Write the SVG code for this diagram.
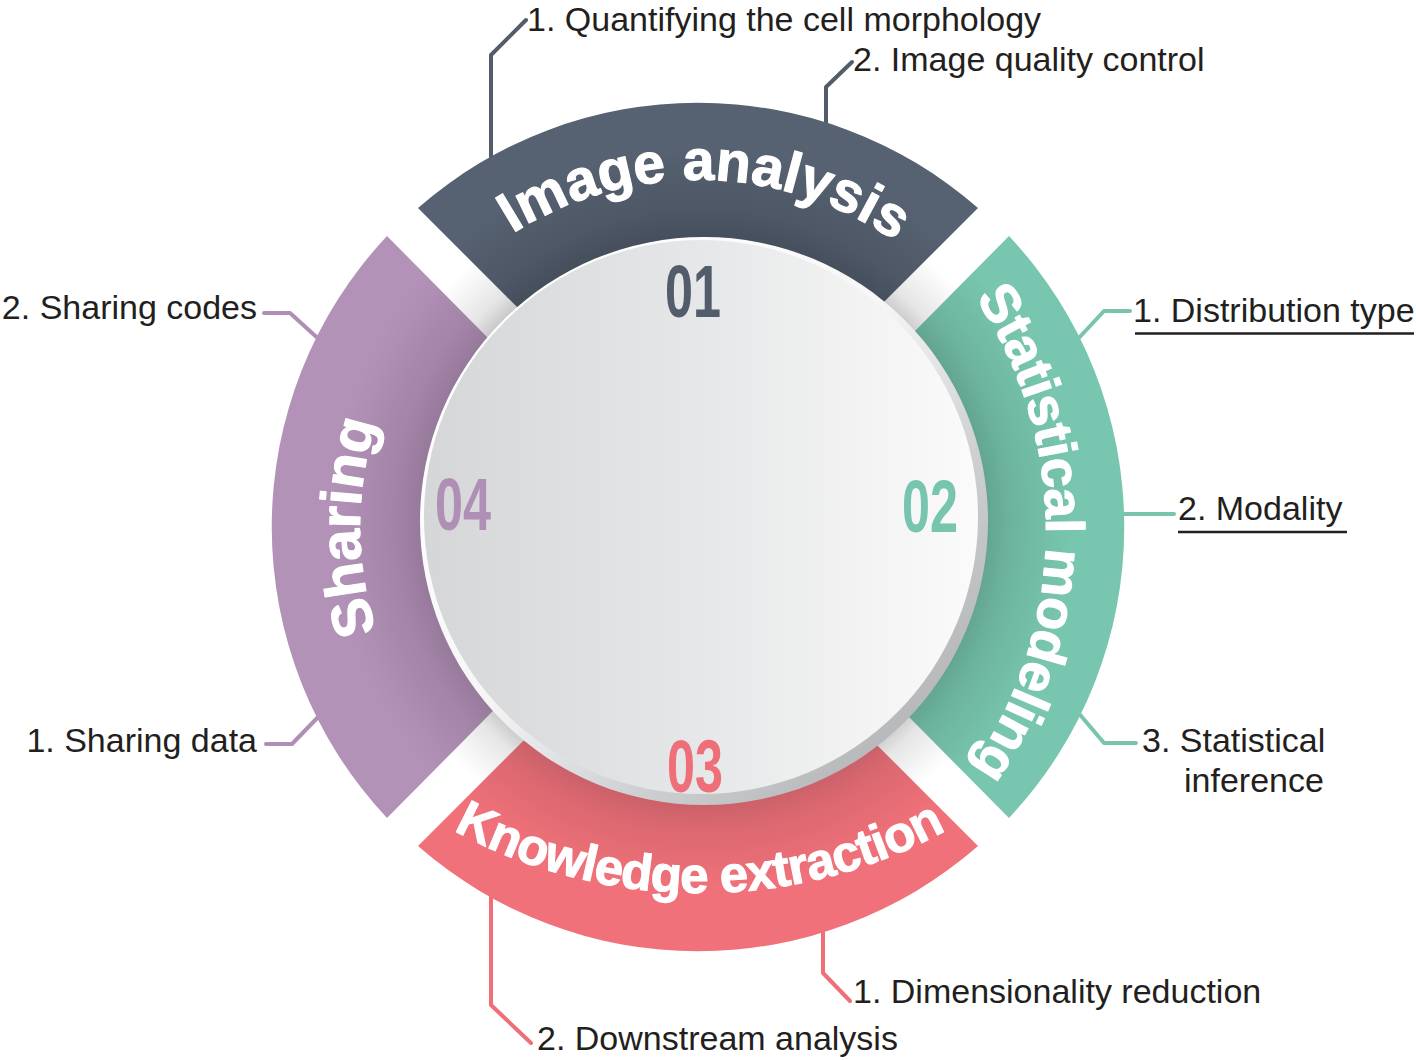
<svg xmlns="http://www.w3.org/2000/svg" width="1416" height="1060" viewBox="0 0 1416 1060">
<defs>
<style>
.lbl{font-family:"Liberation Sans",Arial,Helvetica,sans-serif;font-size:34px;fill:#231f20}
.ttl{font-family:"Liberation Sans",Arial,Helvetica,sans-serif;font-weight:bold;fill:#ffffff;stroke:#ffffff;stroke-width:1.1px;stroke-linejoin:round;text-anchor:middle}
.num{font-family:"Liberation Sans",Arial,Helvetica,sans-serif;font-weight:bold;font-size:74px;text-anchor:middle}
.lead{fill:none;stroke-width:4;stroke-linecap:round;stroke-linejoin:round}
.uline{stroke:#231f20;stroke-width:2.5;fill:none}
</style>
<radialGradient id="gTop" gradientUnits="userSpaceOnUse" cx="702" cy="519" r="430">
<stop offset="0.64" stop-color="#444d5a"/><stop offset="0.72" stop-color="#4d5765"/><stop offset="0.86" stop-color="#566171"/>
</radialGradient>
<radialGradient id="gRight" gradientUnits="userSpaceOnUse" cx="702" cy="519" r="430">
<stop offset="0.64" stop-color="#5f9f8c"/><stop offset="0.72" stop-color="#6db49f"/><stop offset="0.86" stop-color="#78c6af"/>
</radialGradient>
<radialGradient id="gBottom" gradientUnits="userSpaceOnUse" cx="702" cy="519" r="430">
<stop offset="0.64" stop-color="#c45e68"/><stop offset="0.72" stop-color="#db6870"/><stop offset="0.86" stop-color="#f07179"/>
</radialGradient>
<radialGradient id="gLeft" gradientUnits="userSpaceOnUse" cx="702" cy="519" r="430">
<stop offset="0.64" stop-color="#937798"/><stop offset="0.72" stop-color="#a385a8"/><stop offset="0.86" stop-color="#b392b8"/>
</radialGradient>
<radialGradient id="gShadow" gradientUnits="userSpaceOnUse" cx="702" cy="519" r="345">
<stop offset="0.80" stop-color="#000" stop-opacity="0.24"/><stop offset="0.87" stop-color="#000" stop-opacity="0.10"/><stop offset="1" stop-color="#000" stop-opacity="0"/>
</radialGradient>
<linearGradient id="gRim" x1="0.15" y1="0.15" x2="0.85" y2="0.85">
<stop offset="0" stop-color="#ffffff"/><stop offset="0.45" stop-color="#f6f6f7"/><stop offset="0.75" stop-color="#cfd0d2"/><stop offset="1" stop-color="#b8b9bb"/>
</linearGradient>
<linearGradient id="gFace" x1="0" y1="0" x2="1" y2="0">
<stop offset="0" stop-color="#d5d6d8"/><stop offset="0.5" stop-color="#e6e7e8"/><stop offset="1" stop-color="#fbfbfb"/>
</linearGradient>
<path id="tpTop" d="M371.9,408.3 A347,347 0 0 1 1024.1,408.3"/>
<path id="tpRight" d="M837,168 A418,418 0 0 1 830.6,895.6"/>
<path id="tpBottom" d="M253.1,635 A516,516 0 0 0 1146.9,635"/>
<path id="tpLeft" d="M582.4,844.6 A338,338 0 0 1 582.4,209.4"/>
</defs>
<rect width="1416" height="1060" fill="#ffffff"/>

<g id="connectors">
<path class="lead" stroke="#525c6b" d="M491,160 L491,55 L526,20"/>
<path class="lead" stroke="#525c6b" d="M826,125 L826,87 L852,62"/>
<path class="lead" stroke="#77c5ae" d="M1076,341 L1104,311 L1130,311"/>
<path class="lead" stroke="#77c5ae" d="M1118,514 L1174,514"/>
<path class="lead" stroke="#77c5ae" d="M1076,710 L1104,743 L1136,743"/>
<path class="lead" stroke="#b08fb7" d="M264,313 L290,313 L322,342"/>
<path class="lead" stroke="#b08fb7" d="M266,744 L292,744 L322,713"/>
<path class="lead" stroke="#ef6f78" d="M823,930 L823,973 L850,1001"/>
<path class="lead" stroke="#ef6f78" d="M491,895 L491,1005 L531,1043"/>
<line class="uline" x1="1135" y1="333.5" x2="1414" y2="333.5"/>
<line class="uline" x1="1178" y1="532" x2="1347" y2="532"/>
</g>

<circle id="hub-shadow" cx="702" cy="519" r="345" fill="url(#gShadow)"/>

<g id="seg-image-analysis">
<path d="M418,208 A425,425 0 0 1 978,208 L868.4,317.6 A270,270 0 0 0 527.6,317.6 Z" fill="url(#gTop)"/>
<text class="ttl" font-size="57"><textPath href="#tpTop" startOffset="431">Image analysis</textPath></text>
</g>

<g id="seg-statistical-modeling">
<path d="M1009,236 A425,425 0 0 1 1009,818 L899.1,707.1 A270,270 0 0 0 899.1,346.9 Z" fill="url(#gRight)"/>
<text class="ttl" font-size="54"><textPath href="#tpRight" startOffset="50%" textLength="500" lengthAdjust="spacing">Statistical modeling</textPath></text>
</g>

<g id="seg-knowledge-extraction">
<path d="M978,846 A425,425 0 0 1 418,846 L527.6,736.4 A270,270 0 0 0 868.4,736.4 Z" fill="url(#gBottom)"/>
<text class="ttl" font-size="51"><textPath href="#tpBottom" startOffset="50%" textLength="514" lengthAdjust="spacing">Knowledge extraction</textPath></text>
</g>

<g id="seg-sharing">
<path d="M387,818 A425,425 0 0 1 387,236 L496.9,346.9 A270,270 0 0 0 496.9,707.1 Z" fill="url(#gLeft)"/>
<text class="ttl" font-size="57"><textPath href="#tpLeft" startOffset="50%">Sharing</textPath></text>
</g>

<g id="hub">
<circle cx="704" cy="521" r="284" fill="url(#gRim)"/>
<circle cx="701" cy="517" r="277" fill="url(#gFace)"/>
<text class="num" fill="#525c6b" transform="translate(693,317) scale(0.68,1)">01</text>
<text class="num" fill="#77c5ae" transform="translate(930,532) scale(0.68,1)">02</text>
<text class="num" fill="#ef6f78" transform="translate(695,792) scale(0.68,1)">03</text>
<text class="num" fill="#b08fb7" transform="translate(463,530) scale(0.68,1)">04</text>
</g>

<g id="labels">
<text class="lbl" x="527" y="31">1. Quantifying the cell morphology</text>
<text class="lbl" x="853" y="71">2. Image quality control</text>
<text class="lbl" x="1133" y="322">1. Distribution type</text>
<text class="lbl" x="1178" y="520">2. Modality</text>
<text class="lbl" x="1142" y="752">3. Statistical</text>
<text class="lbl" x="1184" y="792">inference</text>
<text class="lbl" x="257" y="319" text-anchor="end">2. Sharing codes</text>
<text class="lbl" x="257" y="752" text-anchor="end">1. Sharing data</text>
<text class="lbl" x="853" y="1003">1. Dimensionality reduction</text>
<text class="lbl" x="537" y="1050">2. Downstream analysis</text>
</g>
</svg>
